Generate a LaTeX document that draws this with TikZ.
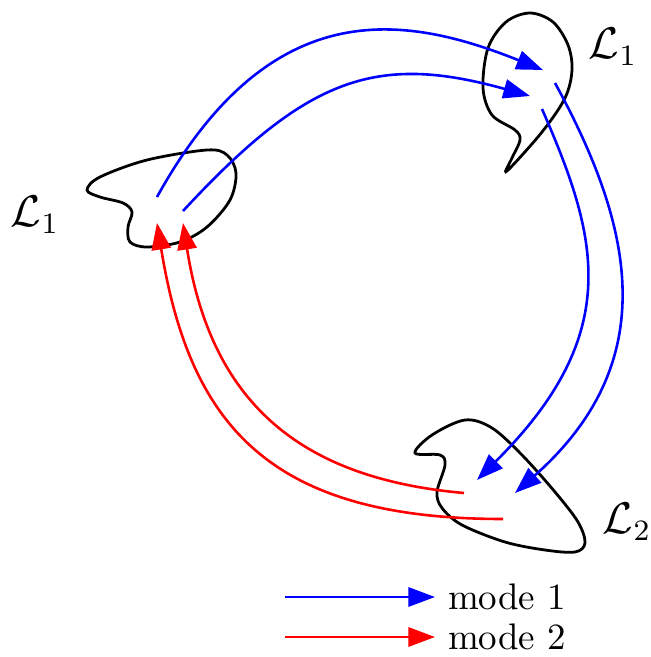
\documentclass[tikz,border=0pt]{standalone}
\usepackage{amsmath, amssymb}
\usepackage{xcolor}
\usepackage{tikz}
\usetikzlibrary{arrows.meta, positioning, calc}

\begin{document}
\begin{tikzpicture}[
  x=0.0095cm, y=-0.0095cm,
  blobline/.style={draw=black, line width=0.75pt, smooth cycle, tension=0.55},
  arrone/.style={-{Triangle[length=7.2pt, width=5.2pt]}, line width=0.7pt, color=blue},
  arrtwo/.style={-{Triangle[length=7.2pt, width=5.2pt]}, line width=0.7pt, color=red},
  lbl/.style={font=\large}
]
  \useasboundingbox (0,0) rectangle (651,657);

  \draw[blobline] plot coordinates {(87,190) (100,177) (147,160) (207,150) (227,155)
    (236,173) (230,200) (207,227) (180,242) (147,247) (130,242) (128,227) (132,212)
    (123,203) (100,197)};
  \draw[blobline] plot coordinates {(530,13) (553,22) (568,45) (572,70) (565,98) (542,132)
    (507,171) (512,158) (520,140) (515,130) (492,115) (483,88) (488,48) (506,22)};
  \draw[blobline] plot coordinates {(415,453) (432,435) (465,420) (492,428) (522,455)
    (555,492) (578,522) (585,543) (575,552) (545,550) (505,542) (462,525) (442,508)
    (437,492) (445,465) (440,455)};

  \node[lbl] (left)  at (35,215)  {$\mathcal{L}_1$};
  \node[lbl] (upper) at (613,47)  {$\mathcal{L}_1$};
  \node[lbl] (lower) at (627,522) {$\mathcal{L}_2$};

  \coordinate (a1) at (157,197);
  \coordinate (a2) at (183,211);
  \coordinate (b1) at (543,70);
  \coordinate (b2) at (530,96);
  \coordinate (c1) at (555,83);
  \coordinate (c2) at (542,109);
  \coordinate (d1) at (515,493);
  \coordinate (d2) at (477,480);
  \coordinate (e1) at (503,519);
  \coordinate (e2) at (464,493);
  \coordinate (f1) at (157,223);
  \coordinate (f2) at (183,223);

  \draw[arrone] (a1) .. controls (270,-7) and (403,14) .. (b1);
  \draw[arrone] (a2) .. controls (307,77) and (376,53) .. (b2);
  \draw[arrone] (c1) .. controls (632,224) and (665,360) .. (d1);
  \draw[arrone] (c2) .. controls (597,235) and (626,332) .. (d2);
  \draw[arrtwo] (e1) .. controls (270,519) and (190,426) .. (f1);
  \draw[arrtwo] (e2) .. controls (306,479) and (212,408) .. (f2);

  \node[anchor=west] (mode1) at (435,597) {mode 1};
  \node[anchor=west] (mode2) at (435,637) {mode 2};
  \coordinate (s1) at (285,597);
  \coordinate (s2) at (285,637);
  \draw[arrone] (s1) -- (mode1.west);
  \draw[arrtwo] (s2) -- (mode2.west);
\end{tikzpicture}
\end{document}
